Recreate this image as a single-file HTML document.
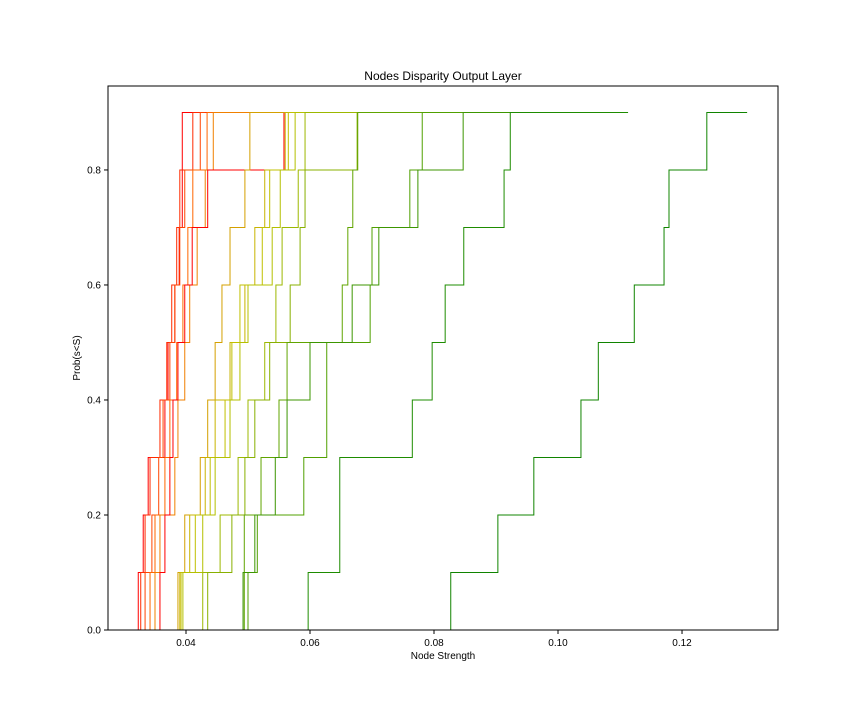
<!DOCTYPE html>
<html><head><meta charset="utf-8"><style>
body{margin:0;background:#fff;font-family:"Liberation Sans",sans-serif}
svg text{font-family:"Liberation Sans",sans-serif;fill:#000}
</style></head><body>
<svg id="chart" width="864" height="720">
<rect width="864" height="720" fill="#fff"/>
<text x="443" y="80" font-size="12" text-anchor="middle">Nodes Disparity Output Layer</text>
<text x="443" y="659" font-size="10" text-anchor="middle">Node Strength</text>
<text transform="translate(80,358) rotate(-90)" font-size="10" text-anchor="middle">Prob(s&lt;S)</text>
<g id="series"></g>
<g id="axes"></g>
</svg>
<script>
const probs=[0,0.1,0.2,0.3,0.4,0.5,0.6,0.7,0.8,0.9];
const xTicks=[0.04,0.06,0.08,0.10,0.12];
const xTickLabels=["0.04","0.06","0.08","0.10","0.12"];
const yTicks=[0,0.2,0.4,0.6,0.8];
const yTickLabels=["0.0","0.2","0.4","0.6","0.8"];
const s1=[0.0323,0.0331,0.0339,0.0366,0.0371,0.0382,0.0389,0.0394,0.0394,0.0523];
const s2=[0.0327,0.0334,0.0342,0.0358,0.0369,0.0377,0.0385,0.0390,0.0411,0.0471];
const s3=[0.0334,0.0345,0.0356,0.0363,0.0374,0.0382,0.0390,0.0398,0.0423,0.0431];
const s4=[0.0342,0.0350,0.0366,0.0374,0.0385,0.0395,0.0403,0.0411,0.0434,0.0511];
const s5=[0.0350,0.0358,0.0382,0.0387,0.0398,0.0406,0.0418,0.0431,0.0444,0.0503];
const s6=[0.0358,0.0366,0.0374,0.0379,0.0387,0.0398,0.0410,0.0435,0.0558,0.0592];
const s7=[0.0387,0.0398,0.0423,0.0435,0.0447,0.0458,0.0471,0.0495,0.0503,0.0568];
const s8=[0.0390,0.0406,0.0431,0.0447,0.0471,0.0495,0.0511,0.0527,0.0560,0.0584];
const s9=[0.0392,0.0415,0.0439,0.0463,0.0474,0.0487,0.0523,0.0535,0.0565,0.0589];
const s10=[0.0395,0.0427,0.0447,0.0471,0.0487,0.0500,0.0539,0.0552,0.0576,0.0677];
const s11=[0.0427,0.0455,0.0484,0.0500,0.0527,0.0545,0.0555,0.0581,0.0592,0.0677];
const s12=[0.0435,0.0474,0.0495,0.0511,0.0535,0.0568,0.0584,0.0592,0.0676,0.0781];
const s13=[0.0494,0.0494,0.0521,0.0550,0.0563,0.0652,0.0661,0.0669,0.0677,0.0781];
const s14=[0.0500,0.0515,0.0590,0.0627,0.0627,0.0697,0.0700,0.0761,0.0781,0.0923];
const s15=[0.0492,0.0511,0.0544,0.0563,0.0600,0.0668,0.0711,0.0774,0.0847,0.0923];
const s16=[0.0597,0.0648,0.0648,0.0765,0.0797,0.0818,0.0848,0.0913,0.0923,0.1113];
const s17=[0.0827,0.0903,0.0961,0.1037,0.1065,0.1123,0.1171,0.1179,0.1240,0.1305];
const seriesList=[s1,s2,s3,s4,s5,s6,s7,s8,s9,s10,s11,s12,s13,s14,s15,s16,s17];
const colors=["#ff0000","#ff2a00","#ff4400","#ff6600","#f08000","#ff0000","#d4a000","#c8b400","#c0c000","#b4c000","#9cb800","#88b000","#60a400","#50a000","#3c9600","#1e8c00","#108400"];
const L=108,R=778,T=86,B=630;
const xMin=0.02742,xMax=0.13548,yMin=0,yMax=0.946;
function X(v){return L+(v-xMin)/(xMax-xMin)*(R-L);}
function Y(v){return B-(v-yMin)/(yMax-yMin)*(B-T);}
const NS="http://www.w3.org/2000/svg";
const sg=document.getElementById('series');
seriesList.forEach((s,k)=>{
  let d="M"+X(s[0])+","+Y(probs[0]);
  for(let i=0;i<s.length-1;i++){d+=" L"+X(s[i])+","+Y(probs[i+1])+" L"+X(s[i+1])+","+Y(probs[i+1]);}
  const p=document.createElementNS(NS,'path');
  p.setAttribute('d',d);p.setAttribute('fill','none');p.setAttribute('stroke',colors[k]);p.setAttribute('stroke-width','1');
  
  
  sg.appendChild(p);
});
const ag=document.getElementById('axes');
const fr=document.createElementNS(NS,'rect');
fr.setAttribute('x',L);fr.setAttribute('y',T);fr.setAttribute('width',R-L);fr.setAttribute('height',B-T);
fr.setAttribute('fill','none');fr.setAttribute('stroke','#000');fr.setAttribute('stroke-width','1');


ag.appendChild(fr);
xTicks.forEach((t,i)=>{
  const x=X(t);
  const l=document.createElementNS(NS,'line');
  l.setAttribute('x1',x);l.setAttribute('x2',x);l.setAttribute('y1',B);l.setAttribute('y2',B+4);l.setAttribute('stroke','#000');
  
  
  ag.appendChild(l);
  const tx=document.createElementNS(NS,'text');
  tx.setAttribute('x',x);tx.setAttribute('y',B+16);tx.setAttribute('font-size','10');tx.setAttribute('text-anchor','middle');
  tx.textContent=xTickLabels[i];
  
  
  ag.appendChild(tx);
});
yTicks.forEach((t,i)=>{
  const y=Y(t);
  const l=document.createElementNS(NS,'line');
  l.setAttribute('x1',L-4);l.setAttribute('x2',L);l.setAttribute('y1',y);l.setAttribute('y2',y);l.setAttribute('stroke','#000');
  
  
  ag.appendChild(l);
  const tx=document.createElementNS(NS,'text');
  tx.setAttribute('x',L-7);tx.setAttribute('y',y+3.5);tx.setAttribute('font-size','10');tx.setAttribute('text-anchor','end');
  tx.textContent=yTickLabels[i];
  
  
  ag.appendChild(tx);
});
</script>
</body></html>
